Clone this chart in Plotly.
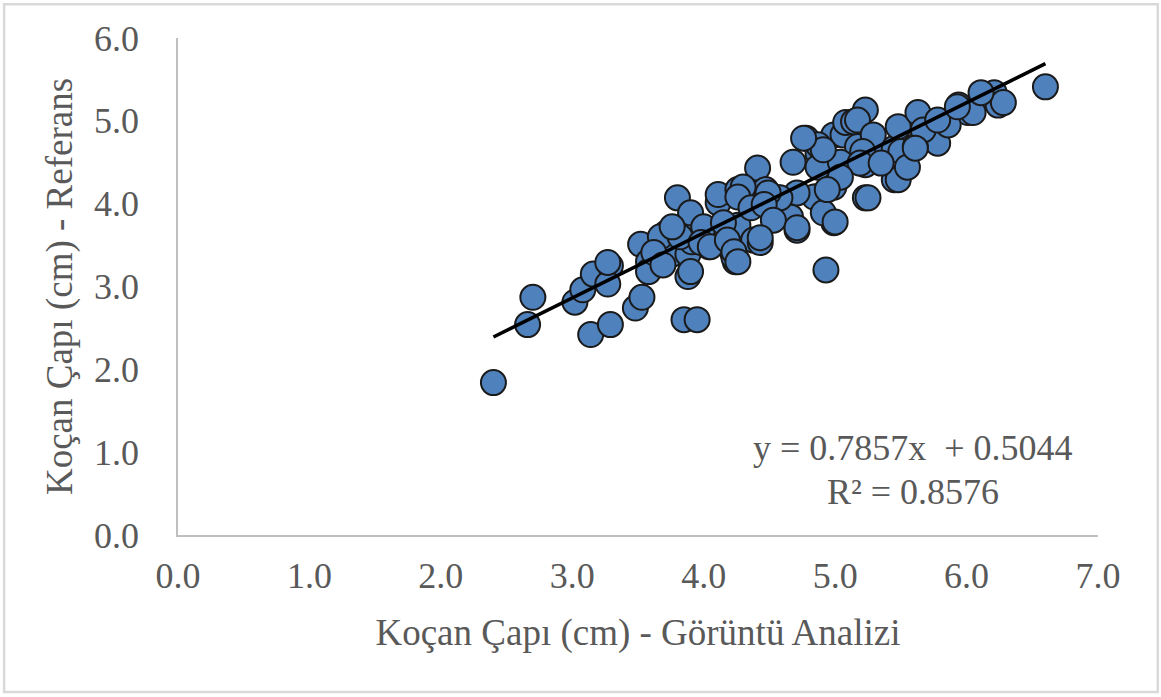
import plotly.graph_objects as go

# Koçan Çapı (cm) - Görüntü Analizi
x_vals = [
    2.40, 2.66, 2.70, 3.02, 3.08, 3.14, 3.16, 3.29, 3.27, 3.29,
    3.48, 3.53, 3.52, 3.58, 3.58, 3.72, 3.76, 3.88, 3.88, 3.85,
    3.95, 4.04, 4.22, 4.24, 3.92, 4.07, 4.26, 4.38, 3.80, 3.90,
    3.67, 3.91, 3.62, 3.69, 3.82, 4.00, 4.11, 4.15, 3.98, 4.05,
    3.76, 3.90, 3.27,
    4.41, 4.68, 4.78, 4.87, 4.99, 4.11, 4.26, 4.47, 4.56, 4.66,
    4.71, 4.43, 4.85, 4.99, 4.93, 4.18, 4.23, 4.87, 5.06, 5.17,
    5.29, 5.45, 4.87, 5.04, 5.23, 5.45, 5.23, 4.99, 4.84, 4.71,
    4.58, 4.49, 4.30, 4.26, 4.36, 4.46, 4.53, 4.71, 4.91, 4.23,
    4.26, 4.43,
    5.23, 5.08, 5.14, 5.17, 5.29, 5.21, 5.19, 5.48, 5.63, 5.78,
    5.50, 5.61, 5.48, 5.25, 5.00, 5.94, 6.01, 6.21, 6.24, 5.67,
    5.86, 5.04, 4.94, 5.35, 5.55, 6.05, 6.28, 6.60, 4.91, 5.78,
    5.93, 6.11, 5.61, 4.76,
]
# Koçan Çapı (cm) - Referans
y_vals = [
    1.84, 2.54, 2.87, 2.81, 2.96, 2.42, 3.15, 3.25, 3.03, 2.54,
    2.74, 2.87, 3.51, 3.30, 3.18, 3.65, 3.39, 3.12, 3.39, 2.60,
    2.60, 3.48, 3.41, 3.30, 3.72, 3.68, 3.74, 3.56, 4.07, 3.89,
    3.60, 3.54, 3.41, 3.26, 3.60, 3.72, 4.01, 3.77, 3.53, 3.48,
    3.72, 3.18, 3.29,
    4.43, 4.50, 4.79, 4.61, 4.83, 4.11, 4.17, 4.17, 4.07, 3.84,
    3.68, 3.53, 4.08, 3.77, 3.20, 3.56, 3.35, 4.71, 4.83, 4.69,
    4.71, 4.67, 4.44, 4.50, 4.47, 4.29, 4.07, 4.20, 4.08, 4.13,
    4.07, 4.13, 4.20, 4.08, 3.95, 3.99, 3.80, 3.71, 3.89, 3.42,
    3.30, 3.59,
    5.13, 4.98, 4.99, 5.01, 4.83, 4.63, 4.49, 4.93, 5.10, 4.73,
    4.63, 4.69, 4.29, 4.07, 3.78, 5.19, 5.10, 5.34, 5.19, 4.89,
    4.95, 4.32, 4.17, 4.49, 4.44, 5.10, 5.22, 5.41, 4.65, 5.01,
    5.17, 5.34, 4.67, 4.79,
]

slope = 0.7857
intercept = 0.5044
r_squared = 0.8576

x_tick_vals = [0, 1, 2, 3, 4, 5, 6, 7]
y_tick_vals = [0, 1, 2, 3, 4, 5, 6]

x_title = "Koçan Çapı (cm) - Görüntü Analizi"
y_title = "Koçan Çapı (cm) - Referans"

font_family = "Liberation Serif, Times New Roman, serif"
text_color = "#595959"

trend_x = [min(x_vals), max(x_vals)]
trend_y = [slope * v + intercept for v in trend_x]

fig = go.Figure()
fig.add_trace(go.Scatter(
    x=x_vals, y=y_vals, mode="markers",
    marker=dict(size=25, color="#4F81BD", line=dict(color="#1a1a1a", width=2)),
    showlegend=False, hoverinfo="x+y",
))
fig.add_trace(go.Scatter(
    x=trend_x, y=trend_y, mode="lines",
    line=dict(color="#000000", width=3.5),
    showlegend=False, hoverinfo="skip",
))

axis_common = dict(
    showgrid=False, zeroline=False, showline=True,
    linecolor="#BFBFBF", linewidth=1.5, ticks="",
    tickfont=dict(family=font_family, size=36, color=text_color),
    tickformat=".1f",
)

fig.update_layout(
    width=1161, height=697,
    margin=dict(l=178, r=63, t=38, b=162),
    paper_bgcolor="white", plot_bgcolor="white",
    font=dict(family=font_family, size=36, color=text_color),
    xaxis=dict(range=[0, 7], tickvals=x_tick_vals, ticklabelstandoff=8,
               title=dict(text=x_title, font=dict(family=font_family, size=37, color=text_color), standoff=24),
               **axis_common),
    yaxis=dict(range=[0, 6], tickvals=y_tick_vals, ticklabelstandoff=30,
               title=dict(text=y_title, font=dict(family=font_family, size=37, color=text_color), standoff=10),
               **axis_common),
    annotations=[
        dict(x=5.59, y=1.05, xref="x", yref="y",
             text=f"y = {slope}x  + {intercept}", showarrow=False,
             xanchor="center", yanchor="middle",
             font=dict(family=font_family, size=36, color=text_color)),
        dict(x=5.59, y=0.52, xref="x", yref="y",
             text=f"R² = {r_squared}", showarrow=False,
             xanchor="center", yanchor="middle",
             font=dict(family=font_family, size=36, color=text_color)),
    ],
    shapes=[
        dict(type="rect", xref="paper", yref="paper",
             x0=-0.189, x1=1.065, y0=-0.316, y1=1.068,
             line=dict(color="#D9D9D9", width=2.5), fillcolor="rgba(0,0,0,0)",
             layer="below"),
    ],
)

fig.write_html("out.html")
